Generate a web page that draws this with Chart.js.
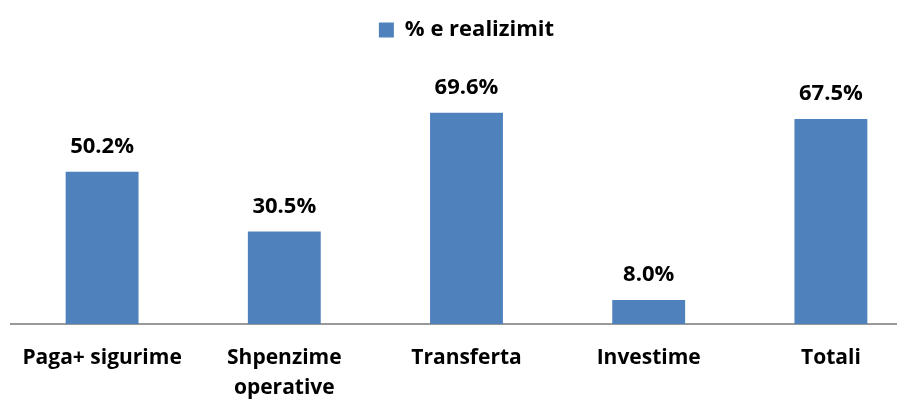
<!DOCTYPE html>
<html>
<head>
<meta charset="utf-8">
<script src="https://cdn.jsdelivr.net/npm/chart.js@4/dist/chart.umd.min.js"></script>
<style>
  html, body { margin: 0; padding: 0; background: #fff; overflow: hidden; }
  #wrap { position: relative; width: 922px; height: 414px; }
</style>
</head>
<body>
<div id="wrap"><canvas id="barChart"></canvas></div>
<script>
  const categories = ['Paga+ sigurime', ['Shpenzime', 'operative'], 'Transferta', 'Investime', 'Totali'];
  const realizimi = [50.2, 30.5, 69.6, 8.0, 67.5];
  const seriesName = '% e realizimit';

  const fontFamily = '"Open Sans", Lato, sans-serif';

  // vlerat mbi shtyllat
  const valueLabels = {
    id: 'valueLabels',
    afterDatasetsDraw(chart) {
      const ctx = chart.ctx;
      const meta = chart.getDatasetMeta(0);
      ctx.save();
      ctx.font = 'bold 22px ' + fontFamily;
      ctx.fillStyle = '#000';
      ctx.textAlign = 'center';
      ctx.textBaseline = 'alphabetic';
      meta.data.forEach((bar, i) => {
        ctx.fillText(realizimi[i].toFixed(1) + '%', bar.x, bar.y - 19);
      });
      ctx.restore();
    }
  };

  // hapesira nen legjende
  const legendSpace = {
    id: 'legendSpace',
    beforeInit(chart) {
      const fit = chart.legend.fit;
      chart.legend.fit = function () {
        fit.bind(chart.legend)();
        this.height = 81;
      };
    }
  };

  const ctxBar = document.getElementById('barChart').getContext('2d');
  const barChart = new Chart(ctxBar, {
    type: 'bar',
    data: {
      labels: categories,
      datasets: [{
        label: seriesName,
        data: realizimi,
        backgroundColor: '#4F81BD',
        borderWidth: 0,
        categoryPercentage: 1,
        barPercentage: 0.4
      }]
    },
    options: {
      responsive: true,
      maintainAspectRatio: false,
      animation: false,
      layout: { padding: { left: 11, right: 0, top: 0, bottom: 0 } },
      plugins: {
        legend: {
          labels: {
            boxWidth: 15,
            boxHeight: 15,
            color: '#000',
            padding: 19,
            font: { family: fontFamily, size: 22, weight: 'bold' }
          }
        },
        tooltip: { enabled: false }
      },
      scales: {
        x: {
          grid: { display: false },
          border: { color: '#999', width: 2 },
          ticks: {
            color: '#000',
            maxRotation: 0,
            autoSkip: false,
            padding: 11,
            font: { family: fontFamily, size: 21, weight: 'bold', lineHeight: 1.42 }
          }
        },
        y: {
          display: false,
          min: 0,
          max: 80
        }
      }
    },
    plugins: [valueLabels, legendSpace]
  });
</script>
</body>
</html>
